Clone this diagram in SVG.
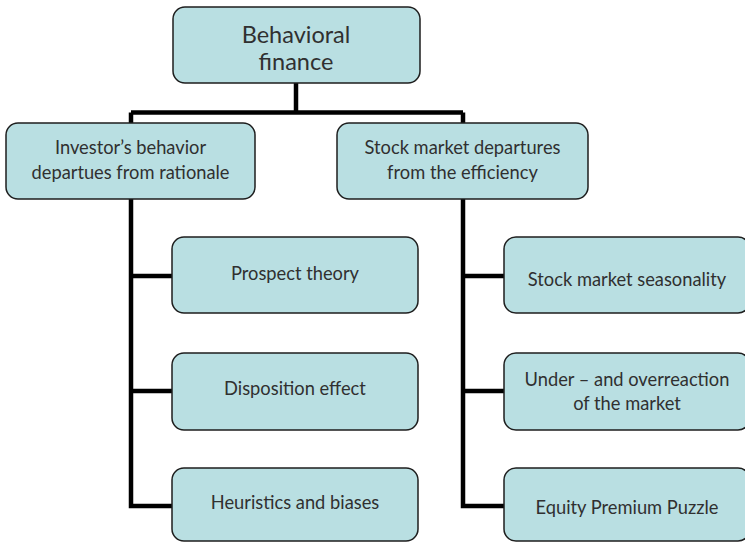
<svg xmlns="http://www.w3.org/2000/svg" width="745" height="542" viewBox="0 0 745 542">
  <style>
    .box { fill: #b9dfe2; stroke: #1e1e1e; stroke-width: 1.5; }
    .lbl { font-family: Lato, "Open Sans", "Liberation Sans", sans-serif; fill: #303030; text-anchor: middle; }
    .big { font-size: 23.5px; }
    .mid { font-size: 18.3px; }
    .wire { fill: none; stroke: #000000; stroke-width: 4.5; }
  </style>
  <rect width="745" height="542" fill="#ffffff"/>

  <!-- tree connectors -->
  <g id="connectors">
    <path class="wire" d="M296 83 V112.5"/>
    <path class="wire" d="M131 112.5 H463"/>
    <path class="wire" d="M131 112.5 V123"/>
    <path class="wire" d="M463 112.5 V123"/>
    <path class="wire" d="M131 199 V506 H172"/>
    <path class="wire" d="M131 276 H172"/>
    <path class="wire" d="M131 391 H172"/>
    <path class="wire" d="M463 199 V506 H504"/>
    <path class="wire" d="M463 276 H504"/>
    <path class="wire" d="M463 391 H504"/>
  </g>

  <g id="root">
    <rect class="box" x="173" y="7" width="247" height="76" rx="12"/>
    <text class="lbl big" x="296" y="43">Behavioral</text>
    <text class="lbl big" x="296" y="70">finance</text>
  </g>

  <g id="investor">
    <rect class="box" x="6" y="123" width="249" height="76" rx="12"/>
    <text class="lbl mid" x="130.5" y="154">Investor’s behavior</text>
    <text class="lbl mid" x="130.5" y="179">departues from rationale</text>
  </g>

  <g id="market">
    <rect class="box" x="337" y="123" width="251" height="76" rx="12"/>
    <text class="lbl mid" x="462.5" y="154">Stock market departures</text>
    <text class="lbl mid" x="462.5" y="179">from the efficiency</text>
  </g>

  <g id="prospect">
    <rect class="box" x="172" y="237" width="246" height="76" rx="12"/>
    <text class="lbl mid" x="295" y="280">Prospect theory</text>
  </g>

  <g id="disposition">
    <rect class="box" x="172" y="353" width="246" height="77" rx="12"/>
    <text class="lbl mid" x="295" y="395">Disposition effect</text>
  </g>

  <g id="heuristics">
    <rect class="box" x="172" y="468" width="246" height="73" rx="12"/>
    <text class="lbl mid" x="295" y="509">Heuristics and biases</text>
  </g>

  <g id="seasonality">
    <rect class="box" x="504" y="237" width="246" height="76" rx="12"/>
    <text class="lbl mid" x="627" y="286">Stock market seasonality</text>
  </g>

  <g id="reaction">
    <rect class="box" x="504" y="353" width="246" height="77" rx="12"/>
    <text class="lbl mid" x="627" y="386">Under – and overreaction</text>
    <text class="lbl mid" x="627" y="410">of the market</text>
  </g>

  <g id="equity">
    <rect class="box" x="504" y="468" width="246" height="73" rx="12"/>
    <text class="lbl mid" x="627" y="514">Equity Premium Puzzle</text>
  </g>
</svg>
